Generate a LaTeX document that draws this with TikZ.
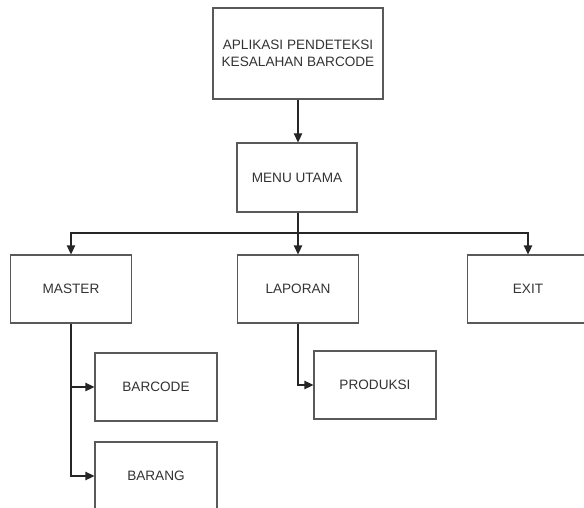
\documentclass[tikz,border=0pt]{standalone}
\usepackage{fontspec}
\setmainfont{Liberation Sans}
\usetikzlibrary{arrows.meta}
\begin{document}
\begin{tikzpicture}[x=1pt,y=-1pt,
  box/.style={draw=black!65,line width=1.3pt,fill=white,text=black!80,
    font=\fontsize{13.6}{17}\selectfont,align=center,inner sep=0pt,
    minimum width=#1},
  box/.default=121pt,
  conn/.style={draw=black!85,line width=1.3pt},
  arr/.style={conn,-{Triangle[length=9pt,width=8.5pt]}}]
\useasboundingbox (0,0) rectangle (584,508);
\clip (0,0) rectangle (584,508);
% main title and menu
\node[box=170pt,minimum height=91pt] (app) at (298,53.5) {APLIKASI PENDETEKSI\\KESALAHAN BARCODE};
\node[box=120pt,minimum height=69pt] (menu) at (297,177.5) {MENU UTAMA};
% first level
\node[box,minimum height=68pt] (master) at (71,289) {MASTER};
\node[box,minimum height=68pt] (laporan) at (298,289) {LAPORAN};
\node[box,minimum height=68pt] (exit) at (528,289) {EXIT};
% second level
\node[box=122pt,minimum height=68pt] (barcode) at (156,387) {BARCODE};
\node[box=122pt,minimum height=68pt] (barang) at (156,476) {BARANG};
\node[box=122pt,minimum height=68pt] (produksi) at (375,385) {PRODUKSI};
% connectors
\coordinate (bus) at (298,233);
\draw[arr] (app.south) -- (menu.north -| app.south);
\draw[conn] (menu.south -| bus) -- (bus);
\draw[arr] (bus) -| (master.north);
\draw[arr] (bus) -- (laporan.north);
\draw[arr] (bus) -| (exit.north);
\draw[arr] (master.south) |- (barcode.west);
\draw[arr] (master.south) |- (barang.west);
\draw[arr] (laporan.south) |- (produksi.west);
\end{tikzpicture}
\end{document}
